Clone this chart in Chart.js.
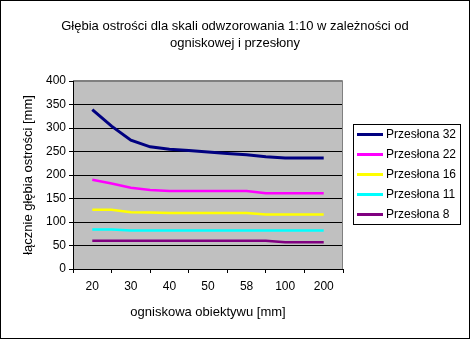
<!DOCTYPE html>
<html lang="pl">
<head>
    <meta charset="UTF-8">
    <title>Głębia ostrości 1:10</title>
    <script src="https://cdn.jsdelivr.net/npm/chart.js"></script>
    <style>
        html, body { margin: 0; padding: 0; background: #fff; }
        canvas { display: block; }
    </style>
</head>
<body>
    <canvas id="dofChart" width="470" height="339"></canvas>

    <script>
        // Focal lengths labelled on the axis (every second measuring point)
        const tickLabels = ['20', '30', '40', '50', '58', '100', '200'];

        // Total depth of field [mm] for each aperture, 13 measuring points
        const f32 = [339, 304, 274, 260, 255, 252, 249, 246, 243, 239, 236, 236, 236];
        const f22 = [190, 182, 173, 168, 166, 166, 166, 166, 166, 161, 161, 161, 161];
        const f16 = [126, 126, 121, 120, 119, 119, 119, 119, 119, 116, 116, 116, 116];
        const f11 = [84, 84, 82, 82, 82, 82, 82, 82, 82, 82, 82, 82, 82];
        const f8  = [60, 60, 60, 60, 60, 60, 60, 60, 60, 60, 57, 57, 57];

        const seriesNames = ['Przesłona 32', 'Przesłona 22', 'Przesłona 16', 'Przesłona 11', 'Przesłona 8'];
        const seriesColors = ['#000080', '#FF00FF', '#FFFF00', '#00FFFF', '#800080'];

        const titleLines = ['Głębia ostrości dla skali odwzorowania 1:10 w zależności od',
                            'ogniskowej i przesłony'];

        const FONT = "'Liberation Sans', Arial, sans-serif";

        // point i sits at position i+1 on a 0..14 axis, ticks on even positions
        const toPoints = arr => arr.map((v, i) => ({ x: i + 1, y: v }));

        const datasets = [f32, f22, f16, f11, f8].map((arr, k) => ({
            label: seriesNames[k],
            data: toPoints(arr),
            borderColor: seriesColors[k],
            backgroundColor: seriesColors[k],
            borderWidth: k === 0 ? 3 : 2.5,
            pointRadius: 0,
            tension: 0
        }));

        // gray plot background, title across the full width, outer frame
        const plotBackground = {
            id: 'plotBackground',
            beforeDraw(chart) {
                const { ctx, chartArea: a } = chart;
                ctx.save();
                ctx.fillStyle = '#C0C0C0';
                ctx.fillRect(a.left, a.top, a.right - a.left, a.bottom - a.top);

                ctx.fillStyle = '#000';
                ctx.font = '13px ' + FONT;
                ctx.textAlign = 'center';
                ctx.textBaseline = 'alphabetic';
                titleLines.forEach((t, i) => ctx.fillText(t, chart.width / 2, 29.5 + i * 17));
                ctx.restore();
            },
            afterDraw(chart) {
                const { ctx, chartArea: a } = chart;
                ctx.save();
                ctx.strokeStyle = '#808080';
                ctx.lineWidth = 1;
                ctx.beginPath();
                ctx.moveTo(a.left, a.top - 0.5);
                ctx.lineTo(a.right - 0.5, a.top - 0.5);
                ctx.lineTo(a.right - 0.5, a.bottom);
                ctx.stroke();
                ctx.strokeStyle = '#000';
                ctx.strokeRect(0.5, 0.5, chart.width - 1, chart.height - 1);
                ctx.restore();
            }
        };

        // boxed legend on the right
        const boxLegend = {
            id: 'boxLegend',
            afterDraw(chart) {
                const { ctx } = chart;
                const x = 353, y = 124, w = 107, h = 100, rowH = 20;
                ctx.save();
                ctx.fillStyle = '#fff';
                ctx.fillRect(x, y, w, h);
                ctx.strokeStyle = '#000';
                ctx.lineWidth = 1;
                ctx.strokeRect(x + 0.5, y + 0.5, w, h);
                ctx.font = '12px ' + FONT;
                ctx.textBaseline = 'middle';
                chart.data.datasets.forEach((ds, i) => {
                    const cy = y + 10.5 + i * rowH;
                    ctx.strokeStyle = ds.borderColor;
                    ctx.lineWidth = 3;
                    ctx.beginPath();
                    ctx.moveTo(x + 4, cy);
                    ctx.lineTo(x + 30, cy);
                    ctx.stroke();
                    ctx.fillStyle = '#000';
                    ctx.fillText(ds.label, x + 33, cy);
                });
                ctx.restore();
            }
        };

        new Chart(document.getElementById('dofChart'), {
            type: 'line',
            data: { datasets },
            plugins: [plotBackground, boxLegend],
            options: {
                responsive: false,
                animation: false,
                layout: { padding: { left: 0, right: 127, top: 81, bottom: 0 } },
                plugins: {
                    legend: { display: false },
                    tooltip: { enabled: false },
                    title: { display: false }
                },
                scales: {
                    x: {
                        type: 'linear',
                        min: 0,
                        max: 14,
                        afterFit(scale) { scale.height = 70; },
                        ticks: {
                            stepSize: 1,
                            autoSkip: false,
                            maxTicksLimit: 20,
                            maxRotation: 0,
                            padding: 6,
                            color: '#000',
                            font: { family: FONT, size: 12 },
                            callback: v => (v % 2 === 1 ? tickLabels[(v - 1) / 2] : '')
                        },
                        grid: {
                            drawOnChartArea: false,
                            tickLength: 4,
                            tickColor: ctx => (ctx.tick && ctx.tick.value % 2 === 0 ? '#000' : 'rgba(0,0,0,0)')
                        },
                        border: { color: '#000', width: 1 },
                        title: {
                            display: true,
                            text: 'ogniskowa obiektywu [mm]',
                            color: '#000',
                            font: { family: FONT, size: 13 },
                            padding: { top: 0, bottom: 19 }
                        }
                    },
                    y: {
                        min: 0,
                        max: 400,
                        afterFit(scale) { scale.width = 73; },
                        ticks: {
                            stepSize: 50,
                            padding: 3,
                            color: '#000',
                            font: { family: FONT, size: 12 }
                        },
                        grid: {
                            color: ctx => (ctx.tick && ctx.tick.value === 400 ? '#808080' : '#000'),
                            tickColor: '#000',
                            tickLength: 4
                        },
                        border: { color: '#000', width: 1 },
                        title: {
                            display: true,
                            text: 'łącznie głębia ostrości [mm]',
                            color: '#000',
                            font: { family: FONT, size: 13 },
                            padding: { top: 21, bottom: 21 }
                        }
                    }
                }
            }
        });
    </script>
</body>
</html>
